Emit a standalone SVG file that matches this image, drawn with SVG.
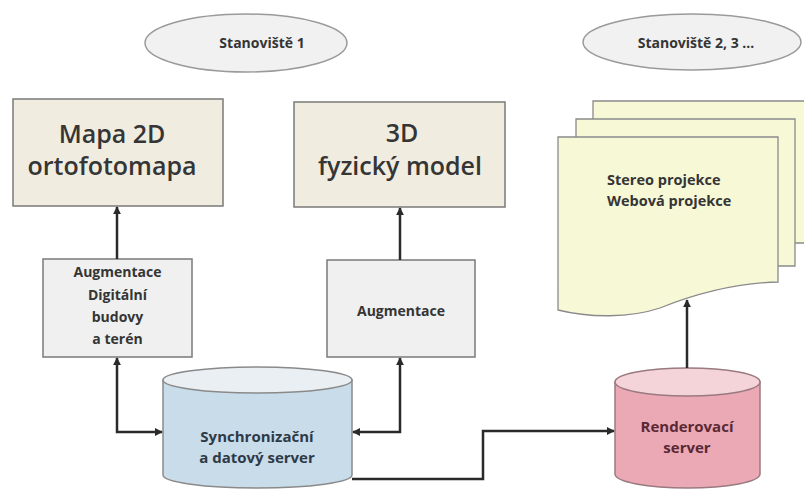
<svg xmlns="http://www.w3.org/2000/svg" width="804" height="493" viewBox="0 0 804 493">
<style>
.t{font-family:"Open Sans","Liberation Sans",sans-serif;fill:#353535;text-anchor:middle}
.big{font-size:25px;font-weight:600}
.sm{font-size:14px;font-weight:bold}
.ell{fill:#f1f1f1;stroke:#9a9a9a;stroke-width:1.5}
.main{fill:#f1ece0;stroke:#7a7a7a;stroke-width:1.5}
.aug{fill:#f0f0f0;stroke:#7a7a7a;stroke-width:1.5}
.doc{fill:#f7f8d6;stroke:#8a8a8a;stroke-width:1.3}
.conn{fill:none;stroke:#2a2a2a;stroke-width:2.5}
</style>
<defs>
<marker id="ah" viewBox="0 0 10 10" refX="9" refY="5" markerWidth="8" markerHeight="8" markerUnits="userSpaceOnUse" orient="auto-start-reverse">
<path d="M0,0 L10,5 L0,10 Z" fill="#2a2a2a"/>
</marker>
</defs>

<g id="stanoviste1">
<ellipse class="ell" cx="246" cy="43" rx="101" ry="29"/>
<text class="t sm" x="262" y="48">Stanoviště 1</text>
</g>
<g id="stanoviste2">
<ellipse class="ell" cx="692" cy="42" rx="109" ry="28"/>
<text class="t sm" x="696" y="48">Stanoviště 2, 3 …</text>
</g>

<g id="mapa2d">
<rect class="main" x="13" y="99" width="210" height="107"/>
<text class="t big" x="112" y="143">Mapa 2D</text>
<text class="t big" x="112" y="175">ortofotomapa</text>
</g>
<g id="model3d">
<rect class="main" x="294" y="102" width="211" height="105"/>
<text class="t big" x="402" y="142">3D</text>
<text class="t big" x="400" y="175">fyzický model</text>
</g>

<g id="projekce">
<path class="doc" d="M593,101 H812 V243 H593 Z"/>
<path class="doc" d="M576,119 H795 V266 H576 Z"/>
<path class="doc" d="M558,137 H778 V282 C740,283 700,292 660,308 C630,318 590,318 558,310 Z"/>
<text class="t sm" x="607" y="185" style="text-anchor:start;font-size:14.5px">Stereo projekce</text>
<text class="t sm" x="607" y="206" style="text-anchor:start;font-size:14.5px">Webová projekce</text>
</g>

<g id="augmentace1">
<rect class="aug" x="43" y="259" width="149" height="98"/>
<text class="t sm" x="117.5" y="277">Augmentace</text>
<text class="t sm" x="117.5" y="300">Digitální</text>
<text class="t sm" x="117.5" y="322">budovy</text>
<text class="t sm" x="117.5" y="344">a terén</text>
</g>
<g id="augmentace2">
<rect class="aug" x="327" y="260" width="148" height="97"/>
<text class="t sm" x="401" y="316">Augmentace</text>
</g>

<g id="sync-server">
<path d="M163,380 V475 A94.5,13 0 0 0 352,475 V380 Z" fill="#c9dcea" stroke="#8a8a8a" stroke-width="1.5"/>
<ellipse cx="257.5" cy="380" rx="94.5" ry="13" fill="#eaeff3" stroke="#8a8a8a" stroke-width="1.5"/>
<text class="t sm" x="257" y="442" style="font-size:15px;fill:#2e3a46">Synchronizační</text>
<text class="t sm" x="257" y="463" style="font-size:15px;fill:#2e3a46">a datový server</text>
</g>

<g id="render-server">
<path d="M615,382 V474 A72.5,14 0 0 0 760,474 V382 Z" fill="#eaa9b4" stroke="#9a7a80" stroke-width="1.5"/>
<ellipse cx="687.5" cy="382" rx="72.5" ry="14" fill="#f4d4d9" stroke="#9a7a80" stroke-width="1.5"/>
<text class="t sm" x="687" y="432" style="font-size:15px;fill:#5a2834">Renderovací</text>
<text class="t sm" x="687" y="453" style="font-size:15px;fill:#5a2834">server</text>
</g>

<g id="connectors">
<path class="conn" d="M117,259 V207" marker-end="url(#ah)"/>
<path class="conn" d="M400,260 V208" marker-end="url(#ah)"/>
<path class="conn" d="M117,358 V432 H162" marker-start="url(#ah)" marker-end="url(#ah)"/>
<path class="conn" d="M400,358 V432 H353" marker-start="url(#ah)" marker-end="url(#ah)"/>
<path class="conn" d="M352,479 H483 V431 H614" marker-end="url(#ah)"/>
<path class="conn" d="M687,368 V300" marker-end="url(#ah)"/>
</g>
</svg>
